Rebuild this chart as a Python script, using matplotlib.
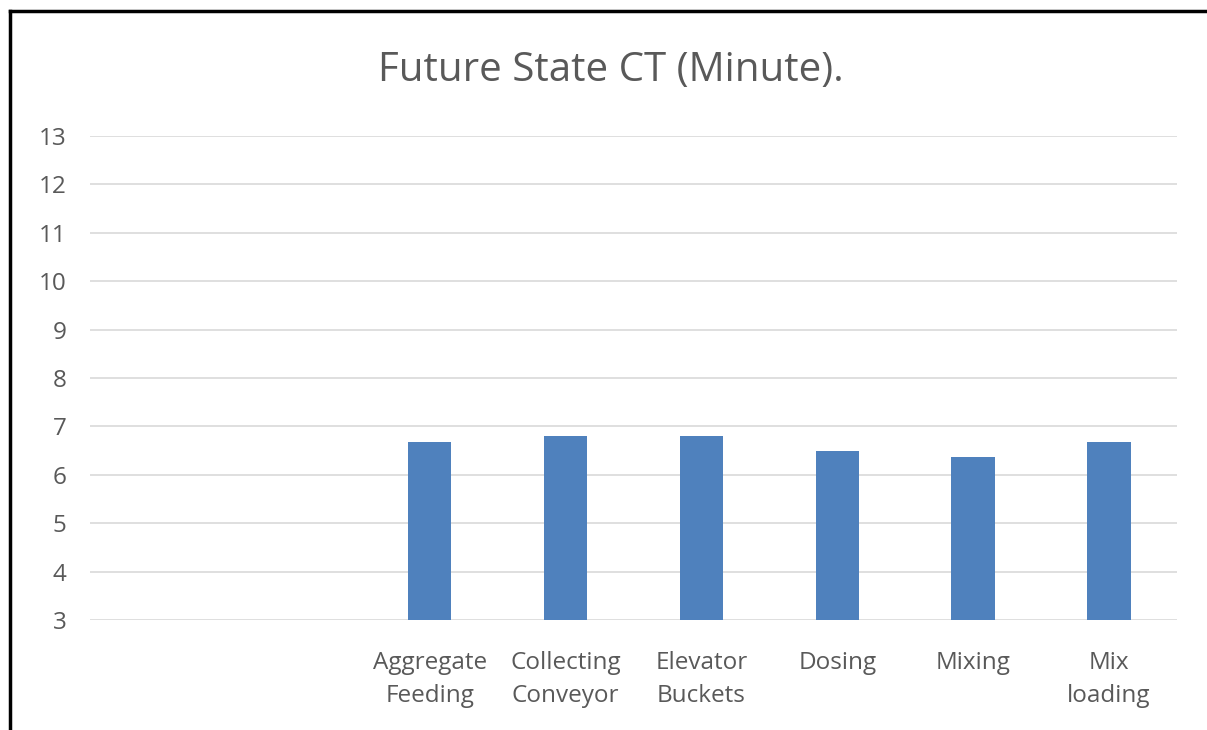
import matplotlib.pyplot as plt
from matplotlib.lines import Line2D

# categories (first two slots are empty in the source chart)
categories = ['', '', 'Aggregate\nFeeding', 'Collecting\nConveyor', 'Elevator\nBuckets',
              'Dosing', 'Mixing', 'Mix\nloading']
ct_values = [None, None, 6.68, 6.81, 6.81, 6.50, 6.37, 6.68]
y_ticks = list(range(3, 14))

plt.rcParams['font.family'] = ['Open Sans', 'DejaVu Sans']
text_col = '#595959'
bar_col = '#4F81BD'

fig = plt.figure(figsize=(12.07, 7.30), dpi=100)
ax = fig.add_axes([90 / 1207, 1 - 620 / 730, 1087 / 1207, 484 / 730])

xs = list(range(len(categories)))
bx = [x for x, v in zip(xs, ct_values) if v is not None]
bv = [v for v in ct_values if v is not None]
ax.bar(bx, bv, width=0.32, color=bar_col, zorder=3)

ax.set_xlim(-0.5, len(categories) - 0.5)
ax.set_ylim(3, 13)
ax.set_yticks(y_ticks)
ax.set_xticks(xs)
ax.set_xticklabels(categories, fontsize=17.5, color=text_col, linespacing=1.5)
ax.tick_params(axis='y', labelsize=17.5, labelcolor=text_col, length=0, pad=17)
ax.tick_params(axis='x', length=0, pad=22)
ax.grid(axis='y', color='#D9D9D9', linewidth=1.2, zorder=0)
for s in ax.spines.values():
    s.set_visible(False)

fig.text(0.506, 1 - 71 / 730, 'Future State CT (Minute).', ha='center', va='center',
         fontsize=29, color=text_col)

# outer border (left and top only visible)
fig.add_artist(Line2D([10 / 1207, 10 / 1207], [0, 1 - 11 / 730], color='black', lw=2.5,
                      transform=fig.transFigure))
fig.add_artist(Line2D([10 / 1207, 1], [1 - 11 / 730, 1 - 11 / 730], color='black', lw=2.5,
                      transform=fig.transFigure))

fig.savefig('out.png', dpi=100)
